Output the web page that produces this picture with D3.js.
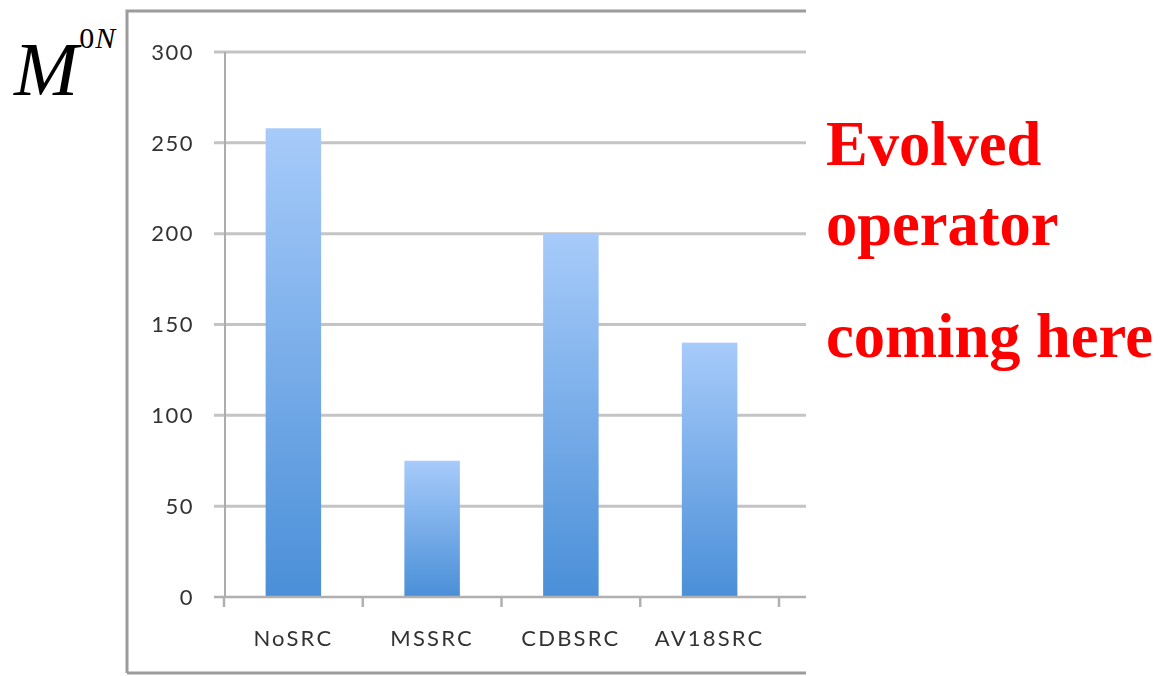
<!DOCTYPE html>
<html>
<head>
<meta charset="utf-8">
<script src="https://cdn.jsdelivr.net/npm/d3@7"></script>
<style>
  html, body { margin: 0; padding: 0; background: #fff; }
  svg { display: block; }
</style>
</head>
<body>
<svg id="chart" width="1160" height="676"></svg>
<script>
// Nuclear matrix element M^{0N} for each short-range-correlation treatment
const categories = ["NoSRC", "MSSRC", "CDBSRC", "AV18SRC"];
const values = [258, 75, 200, 140];
const yTicks = [0, 50, 100, 150, 200, 250, 300];
const noteLines = ["Evolved", "operator", "coming here"];

const svg = d3.select("#chart");
const defs = svg.append("defs");

const grad = defs.append("linearGradient")
  .attr("id", "barFill").attr("x1", 0).attr("y1", 0).attr("x2", 0).attr("y2", 1);
grad.append("stop").attr("offset", "0%").attr("stop-color", "#a7cbfa");
grad.append("stop").attr("offset", "100%").attr("stop-color", "#4a8fd8");

defs.append("filter").attr("id", "soft")
  .attr("x", "-2%").attr("y", "-2%").attr("width", "104%").attr("height", "104%")
  .append("feGaussianBlur").attr("stdDeviation", 0.7);

defs.append("clipPath").attr("id", "frameClip")
  .append("rect").attr("x", 0).attr("y", 0).attr("width", 806).attr("height", 676);

const chart = svg.append("g")
  .attr("clip-path", "url(#frameClip)")
  .append("g").attr("filter", "url(#soft)");

// chart frame: left, top and bottom edges
const frame = chart.append("g").attr("stroke", "#9c9c9c").attr("stroke-width", 3).attr("fill", "none");
frame.append("path").attr("d", "M127,673 L127,11 L810,11");
frame.append("path").attr("d", "M127,673 L810,673");

const x = d3.scaleBand()
  .domain(categories)
  .range([224, 779])
  .paddingInner(0.6)
  .paddingOuter(0.3);

const y = d3.scaleLinear().domain([0, 300]).range([597, 52]);

// horizontal gridlines with short left ticks
chart.append("g")
  .selectAll("line")
  .data(yTicks.filter(d => d > 0))
  .join("line")
  .attr("x1", 214).attr("x2", 810)
  .attr("y1", d => y(d)).attr("y2", d => y(d))
  .attr("stroke", "#c4c4c4").attr("stroke-width", 3);

// y axis line
chart.append("line")
  .attr("x1", 225).attr("x2", 225)
  .attr("y1", y(300)).attr("y2", y(0))
  .attr("stroke", "#acacac").attr("stroke-width", 2);

// bars
chart.append("g")
  .selectAll("rect")
  .data(categories)
  .join("rect")
  .attr("x", d => x(d))
  .attr("width", x.bandwidth())
  .attr("y", (d, i) => y(values[i]))
  .attr("height", (d, i) => y(0) - y(values[i]))
  .attr("fill", "url(#barFill)");

// x axis line and category separators
chart.append("line")
  .attr("x1", 214).attr("x2", 810)
  .attr("y1", y(0)).attr("y2", y(0))
  .attr("stroke", "#b0b0b0").attr("stroke-width", 2.5);

const step = x.step();
const bounds = d3.range(categories.length + 1).map(i => x.range()[0] + i * step);
chart.append("g")
  .selectAll("line")
  .data(bounds)
  .join("line")
  .attr("x1", d => d).attr("x2", d => d)
  .attr("y1", y(0)).attr("y2", y(0) + 10)
  .attr("stroke", "#b0b0b0").attr("stroke-width", 2.5);

// y tick labels
chart.append("g")
  .selectAll("text")
  .data(yTicks)
  .join("text")
  .attr("x", 194)
  .attr("y", d => y(d))
  .attr("dy", "0.35em")
  .attr("text-anchor", "end")
  .attr("font-family", "Lato, 'Open Sans', sans-serif")
  .attr("font-size", 22)
  .attr("letter-spacing", 1.5)
  .attr("fill", "#333")
  .text(d => d);

// category labels
chart.append("g")
  .selectAll("text")
  .data(categories)
  .join("text")
  .attr("x", d => x(d) + x.bandwidth() / 2)
  .attr("y", 638)
  .attr("dy", "0.35em")
  .attr("text-anchor", "middle")
  .attr("font-family", "Lato, 'Open Sans', sans-serif")
  .attr("font-size", 22)
  .attr("letter-spacing", 2.2)
  .attr("fill", "#333")
  .text(d => d);

// axis title M^{0N}
const title = svg.append("text")
  .attr("x", 14).attr("y", 95)
  .attr("font-family", "'Liberation Serif', 'Times New Roman', serif")
  .attr("fill", "#000");
title.append("tspan").attr("font-style", "italic").attr("font-size", 77).text("M");
title.append("tspan").attr("font-size", 30).attr("dy", -47).attr("dx", 1).text("0");
title.append("tspan").attr("font-size", 30).attr("font-style", "italic").attr("dx", 1).text("N");

// note on the right
const noteY = [165, 245, 357];
svg.append("g")
  .selectAll("text")
  .data(noteLines)
  .join("text")
  .attr("x", 826)
  .attr("y", (d, i) => noteY[i])
  .attr("font-family", "'Liberation Serif', 'Times New Roman', serif")
  .attr("font-weight", "bold")
  .attr("font-size", 62.5)
  .attr("fill", "#ff0000")
  .text(d => d);
</script>
</body>
</html>
